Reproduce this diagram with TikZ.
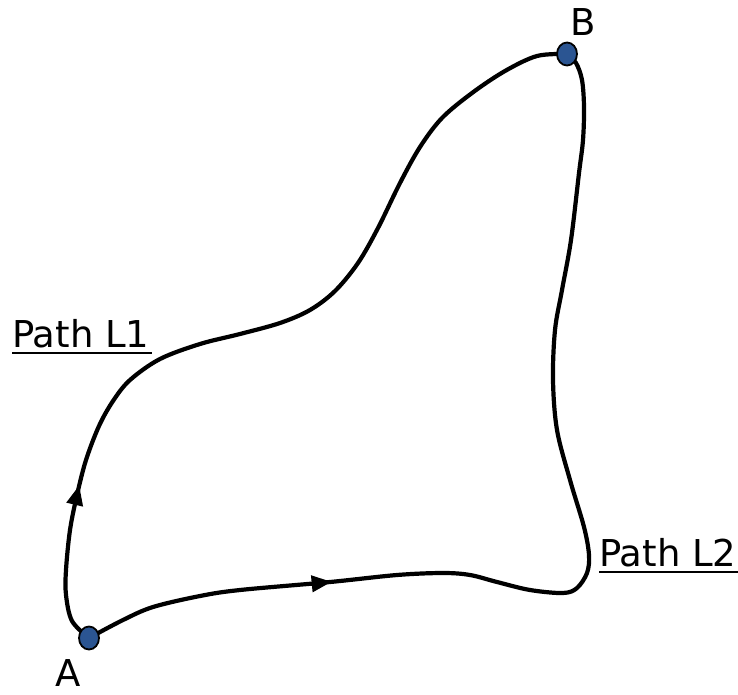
\documentclass[tikz,border=0pt]{standalone}
\usepackage{fontspec}
\setmainfont{DejaVu Sans}
\usetikzlibrary{shapes.geometric,arrows.meta,decorations.markings}
\definecolor{dotblue}{HTML}{2B5592}
\tikzset{
  pathline/.style={line width=4.2pt,line join=round,line cap=round},
  dotpt/.style={ellipse,draw=black,line width=1.8pt,fill=dotblue,minimum width=20pt,minimum height=23pt,inner sep=0pt},
  lbl/.style={font=\fontsize{37}{42}\selectfont,inner sep=0pt},
  midarrow/.style={postaction={decorate,decoration={markings,mark=at position #1 with {\arrow{Triangle[length=20pt,width=16pt]}}}}}
}
\begin{document}
\begin{tikzpicture}[x=1pt,y=-1pt]
\useasboundingbox (0,0) rectangle (738,695);
\coordinate (A) at (89,638);
\coordinate (B) at (567,54);
% Path L1
\draw[pathline,midarrow=162pt] plot[smooth,tension=0.55] coordinates {(A) (72,621) (66,595) (66,570) (70,530) (77,495) (86,460) (99,426) (113,401) (130,380) (160,359) (200,344) (240,334) (280,323) (310,310) (335,291) (358,263) (378,228) (400,183) (420,147) (442,118) (472,93) (505,71) (537,56) (B)};
% Path L2
\draw[pathline,midarrow=252pt] plot[smooth,tension=0.55] coordinates {(A) (123,620) (153,607) (200,596) (240,590) (330,582) (397,575) (443,573) (470,575) (497,582) (530,590) (563,593) (577,588) (587,573) (589,555) (584,527) (570,480) (557,430) (553,380) (555,330) (562,290) (571,240) (579,173) (583,140) (584,107) (582,80) (576,63) (B)};
\node[dotpt] (dA) at (A) {};
\node[dotpt] (dB) at (B) {};
\node[lbl] (tA) at (68,673) {A};
\node[lbl] (tB) at (583,22) {B};
\node[lbl,anchor=base west] (L1) at (12,347) {Path L1};
\node[lbl,anchor=base west] (L2) at (599,566) {Path L2};
\draw[line width=2.4pt] ([yshift=-6pt]L1.base west) -- ([xshift=2pt,yshift=-6pt]L1.base east);
\draw[line width=2.4pt] ([yshift=-6pt]L2.base west) -- ([xshift=4pt,yshift=-6pt]L2.base east);
\end{tikzpicture}
\end{document}
